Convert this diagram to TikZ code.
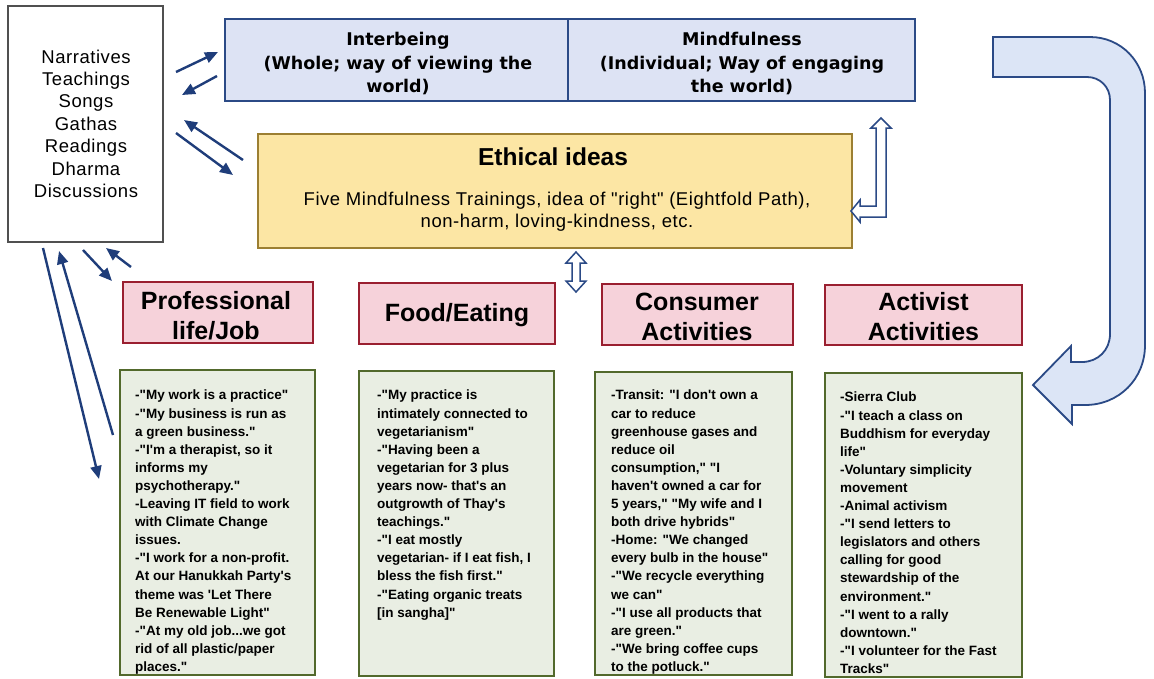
\documentclass[tikz,border=0pt]{standalone}
\usepackage{fontspec}
\setmainfont{Liberation Sans}[Ligatures=TeXOff]
\newfontfamily\topfont{DejaVu Sans}
\newfontfamily\spacedfont{Liberation Sans}[LetterSpace=3]
\usetikzlibrary{arrows.meta,fit}

\definecolor{bluefill}{HTML}{DDE3F4}
\definecolor{blueline}{HTML}{2B4A86}
\definecolor{ethfill}{HTML}{FCE6A4}
\definecolor{ethline}{HTML}{9C7F32}
\definecolor{pinkfill}{HTML}{F6D2DA}
\definecolor{pinkline}{HTML}{9A1F30}
\definecolor{greenfill}{HTML}{E9EEE3}
\definecolor{greenline}{HTML}{52692C}
\definecolor{arrowblue}{HTML}{1F3D7A}
\definecolor{bigfill}{HTML}{DCE5F6}
\definecolor{srcline}{HTML}{505050}

\tikzset{
  boxbase/.style={inner sep=0pt, line width=1.6pt},
  srcbox/.style={boxbase, draw=srcline, fill=white},
  topbox/.style={boxbase, draw=blueline, fill=bluefill},
  ethbox/.style={boxbase, draw=ethline, fill=ethfill},
  headbox/.style={boxbase, draw=pinkline, fill=pinkfill},
  headtext/.style={inner sep=0pt, align=center,
    font=\fontsize{25}{30}\selectfont\bfseries},
  quotebox/.style={boxbase, draw=greenline, fill=greenfill},
  quotetext/.style={inner sep=0pt, align=left, anchor=north west,
    font=\fontsize{13.5}{18.1}\selectfont\bfseries},
  toptext/.style={inner sep=0pt, align=center,
    font=\topfont\fontsize{17.5}{23.5}\selectfont\bfseries},
  link/.style={draw=arrowblue, line width=2.4pt,
    -{Triangle[length=13pt,width=11pt]}},
  hollow/.style={draw=blueline, line width=1.5pt, fill=white, line join=miter},
  bigarrow/.style={draw=blueline, line width=1.8pt, fill=bigfill, line join=miter},
}

\begin{document}
\begin{tikzpicture}[x=1pt,y=-1pt]
\useasboundingbox (0,0) rectangle (1154,678);

% large return arrow on the right
\draw[bigarrow] (993,37) -- (1090,37)
  .. controls (1121,37) and (1145,62) .. (1145,93)
  -- (1145,345)
  .. controls (1145,379) and (1119,405) .. (1085,405)
  -- (1072,405) -- (1072,424) -- (1033,385) -- (1071,346) -- (1071,362)
  -- (1082,362)
  .. controls (1098,362) and (1110,350) .. (1110,334)
  -- (1110,100)
  .. controls (1110,87) and (1100,77) .. (1087,77)
  -- (993,77) -- cycle;

% source materials
\node[srcbox, fit={(8,6) (163,242)}] (src) {};
\node[inner sep=0pt, align=center, anchor=north,
  font=\spacedfont\fontsize{18.5}{22.4}\selectfont] (srctext) at (86,49.5)
  {Narratives\\Teachings\\Songs\\Gathas\\Readings\\Dharma\\Discussions};

% interbeing / mindfulness
\node[topbox, fit={(225,19) (568,101)}] (inter) {};
\node[topbox, fit={(568,19) (915,101)}] (mind) {};
\node[toptext] (intertext) at (398,64)
  {Interbeing\\(Whole; way of viewing the\\world)};
\node[toptext] (mindtext) at (742,64)
  {Mindfulness\\(Individual; Way of engaging\\the world)};

% ethical ideas
\node[ethbox, fit={(258,134) (852,248)}] (eth) {};
\node[inner sep=0pt, anchor=base, font=\fontsize{24.5}{28}\selectfont\bfseries]
  (ethtitle) at (553,165) {Ethical ideas};
\node[inner sep=0pt, anchor=north, align=center,
  font=\spacedfont\fontsize{18.5}{22}\selectfont] (ethbody) at (557,191.5)
  {Five Mindfulness Trainings, idea of "right" (Eightfold Path),\\
   non-harm, loving-kindness, etc.};

% life areas
\node[headbox, fit={(123,282) (313,343)}] (job) {};
\node[headbox, fit={(359,283) (555,344)}] (food) {};
\node[headbox, fit={(602,284) (793,345)}] (consumer) {};
\node[headbox, fit={(825,285) (1022,345)}] (activist) {};
\node[headtext] (jobtext) at (216,315.5) {Professional\\life/Job};
\node[headtext] (foodtext) at (457,315) {Food/Eating};
\node[headtext] (constext) at (697,316.5) {Consumer\\Activities};
\node[headtext] (acttext) at (923.5,317) {Activist\\Activities};

% quotes
\node[quotebox, fit={(120,370) (315,675)}] (jobq) {};
\node[quotebox, fit={(359,371) (554,676)}] (foodq) {};
\node[quotebox, fit={(595,372) (792,675)}] (consq) {};
\node[quotebox, fit={(825,373) (1022,677)}] (actq) {};

\node[quotetext] (jobqt) at (135,390) {%
-"My work is a practice"\\
-"My business is run as\\
a green business."\\
-"I'm a therapist, so it\\
informs my\\
psychotherapy."\\
-Leaving IT field to work\\
with Climate Change\\
issues.\\
-"I work for a non-profit.\\
At our Hanukkah Party's\\
theme was 'Let There\\
Be Renewable Light"\\
-"At my old job...we got\\
rid of all plastic/paper\\
places."};

\node[quotetext] (foodqt) at (377,390) {%
-"My practice is\\
intimately connected to\\
vegetarianism"\\
-"Having been a\\
vegetarian for 3 plus\\
years now- that's an\\
outgrowth of Thay's\\
teachings."\\
-"I eat mostly\\
vegetarian- if I eat fish, I\\
bless the fish first."\\
-"Eating organic treats\\
{[in sangha]"}};

\node[quotetext] (consqt) at (611,390) {%
-Transit: "I don't own a\\
car to reduce\\
greenhouse gases and\\
reduce oil\\
consumption," "I\\
haven't owned a car for\\
5 years," "My wife and I\\
both drive hybrids"\\
-Home: "We changed\\
every bulb in the house"\\
-"We recycle everything\\
we can"\\
-"I use all products that\\
are green."\\
-"We bring coffee cups\\
to the potluck."};

\node[quotetext] (actqt) at (840,392) {%
-Sierra Club\\
-"I teach a class on\\
Buddhism for everyday\\
life"\\
-Voluntary simplicity\\
movement\\
-Animal activism\\
-"I send letters to\\
legislators and others\\
calling for good\\
stewardship of the\\
environment."\\
-"I went to a rally\\
downtown."\\
-"I volunteer for the Fast\\
Tracks"};

% exchange arrows around the source box
\coordinate (s1) at (176,72);  \coordinate (e1) at (218,52);
\coordinate (s2) at (217,76);  \coordinate (e2) at (182,95);
\coordinate (s3) at (243,160); \coordinate (e3) at (184,120);
\coordinate (s4) at (176,133); \coordinate (e4) at (233,175);
\coordinate (s5) at (83,250);  \coordinate (e5) at (112,281);
\coordinate (s6) at (131,267); \coordinate (e6) at (106,248);
\coordinate (s7) at (43,248);  \coordinate (e7) at (99,479);
\coordinate (s8) at (113,435); \coordinate (e8) at (59,251);
\foreach \i in {1,...,8} \draw[link] (s\i) -- (e\i);

% hollow double arrow between ethics and life areas
\draw[hollow] (576,252) -- (586,263) -- (580,263) -- (580,281) -- (586,281)
  -- (576,292) -- (566,281) -- (572,281) -- (572,263) -- (566,263) -- cycle;

% hollow bent arrow between ethics and mindfulness
\draw[hollow] (851,211) -- (860,200) -- (860,206) -- (876,206) -- (876,128)
  -- (871,128) -- (881,118) -- (891,128) -- (886,128) -- (886,217)
  -- (860,217) -- (860,222) -- cycle;

\end{tikzpicture}
\end{document}
